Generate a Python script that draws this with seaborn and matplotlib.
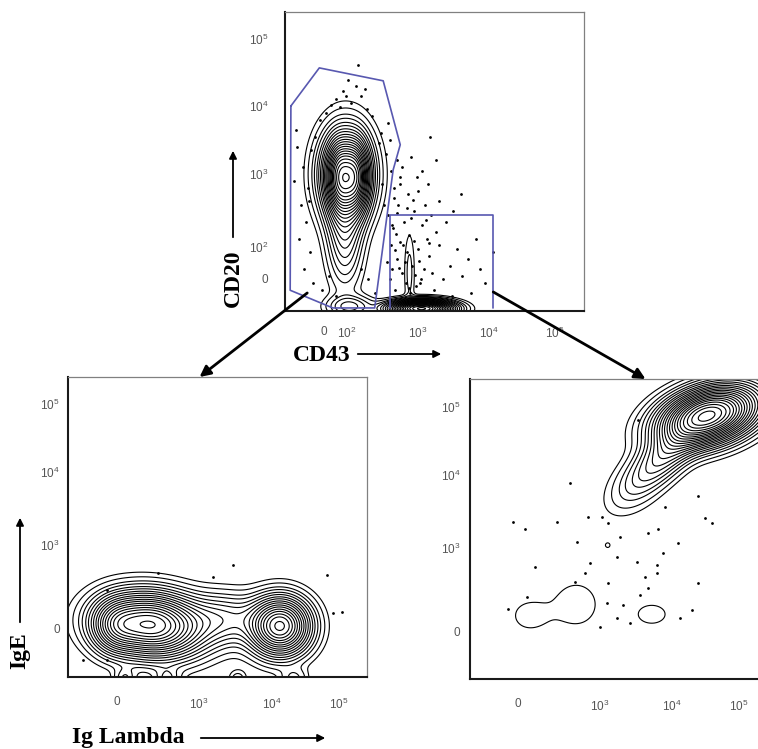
import numpy as np
import pandas as pd
import seaborn as sns
import matplotlib
matplotlib.use('Agg')
import matplotlib.pyplot as plt
from matplotlib.patches import ConnectionPatch, FancyArrowPatch

# axis units: display decades of the biexponential scale (10^k sits near k)
# each population = gaussian blob: centre, spread, correlation, peak height

# top panel: CD43 (x) vs CD20 (y)
TOP_CX = [1.90, 2.12, 1.98, 1.97, 2.04, 3.05, 2.88]
TOP_CY = [2.95, 2.95, 3.00, 2.20, 1.05, 1.02, 1.55]
TOP_SX = [0.11, 0.11, 0.22, 0.15, 0.20, 0.25, 0.05]
TOP_SY = [0.30, 0.30, 0.40, 0.50, 0.10, 0.07, 0.40]
TOP_RHO = [0.0, 0.0, 0.0, 0.0, 0.0, 0.0, 0.0]
TOP_H = [0.70, 0.70, 0.70, 0.25, 0.15, 1.80, 0.05]

# outlier events, top panel
TOP_DOT_U = [1.85, 1.95, 2.05, 2.12, 1.78, 2.20, 1.70, 2.28, 2.02, 1.90, 2.15, 1.62, 2.35, 1.99, 2.25,
             1.30, 1.38, 1.45, 1.35, 1.28, 1.50, 1.42, 1.33, 1.48, 1.40, 1.52, 1.25, 1.55, 1.47,
             2.48, 2.55, 2.62, 2.50, 2.58, 2.45, 2.70, 2.66, 2.52, 2.75, 2.60,
             2.58, 2.65, 2.72, 2.80, 2.88, 2.95, 3.05, 3.12, 2.62, 2.70, 2.78, 2.85, 2.92, 3.00, 3.08,
             3.15, 2.60, 2.68, 2.75, 2.83, 2.97, 3.04, 3.20, 3.25, 2.66, 2.86, 3.00, 2.74, 3.18, 3.30,
             2.56, 2.64, 2.90, 3.10, 2.81, 2.71, 2.94, 3.02, 3.22, 2.89, 3.35, 3.40, 2.99, 3.14, 2.77,
             2.90, 3.06, 2.69, 2.79, 2.96, 3.11, 2.63, 2.84, 3.03, 2.73, 2.93, 3.16, 2.67, 2.87,
             3.45, 3.55, 3.62, 3.70, 3.50, 3.82, 3.95, 3.75, 4.05, 3.60, 3.30, 3.48, 3.88, 3.17, 3.25,
             1.65, 1.75, 2.30, 2.40, 2.20, 1.85]
TOP_DOT_V = [4.10, 4.22, 4.05, 4.30, 4.02, 4.15, 3.90, 3.95, 4.38, 3.98, 4.60, 3.80, 3.85, 4.15, 4.25,
             3.40, 3.10, 2.80, 2.55, 3.65, 3.35, 2.30, 2.05, 1.85, 1.60, 1.40, 2.90, 3.55, 2.60,
             3.60, 3.30, 3.05, 2.85, 3.75, 3.45, 3.20, 2.80, 2.55, 2.95, 3.50,
             2.40, 2.20, 2.55, 2.30, 2.10, 2.45, 2.25, 2.05, 1.95, 1.75, 1.55, 1.85, 1.65, 1.90, 1.60,
             1.80, 1.45, 1.30, 2.00, 1.40, 1.35, 1.45, 1.55, 2.15, 2.65, 2.70, 2.75, 2.85, 2.40, 1.95,
             1.70, 1.60, 2.35, 2.55, 1.70, 2.42, 2.02, 1.72, 1.30, 1.25, 1.45, 2.30, 2.95, 2.85, 3.10,
             3.25, 3.05, 2.12, 1.95, 1.52, 2.32, 2.25, 2.50, 1.40, 1.62, 2.62, 1.98, 1.88, 1.32,
             1.65, 1.90, 1.50, 1.75, 2.45, 2.05, 1.40, 1.25, 1.85, 2.70, 2.60, 1.20, 1.60, 3.55, 3.20,
             1.30, 1.50, 1.45, 1.25, 1.60, 1.20]

# gates drawn on the top panel
GATE1_U = [1.21, 1.61, 2.51, 2.75, 2.65, 2.39, 1.80, 1.20, 1.21]
GATE1_V = [4.00, 4.56, 4.37, 3.43, 3.06, 1.03, 1.03, 1.29, 4.00]
GATE2_U = [2.61, 2.61, 4.06, 4.06]
GATE2_V = [1.03, 2.40, 2.40, 1.03]

# bottom left: Ig Lambda (x) vs IgE (y)
BL_CX = [2.32, 1.82, 4.15, 3.35, 1.95, 2.55, 3.55, 4.35]
BL_CY = [1.87, 1.85, 1.85, 1.95, 1.10, 1.10, 1.10, 1.10]
BL_SX = [0.42, 0.20, 0.25, 0.35, 0.10, 0.12, 0.08, 0.12]
BL_SY = [0.26, 0.22, 0.24, 0.22, 0.10, 0.10, 0.08, 0.10]
BL_RHO = [-0.1, 0.0, 0.0, 0.0, 0.0, 0.0, 0.0, 0.0]
BL_H = [1.20, 0.35, 1.00, 0.22, 0.10, 0.10, 0.06, 0.08]
BL_DOT_U = [2.42, 3.48, 3.20, 4.82, 5.03, 4.90, 1.35, 1.70, 1.70]
BL_DOT_V = [2.60, 2.72, 2.55, 2.57, 2.05, 2.04, 1.37, 1.37, 2.36]

# bottom right: Ig Lambda (x) vs IgE (y)
BR_CX = [4.55, 3.95, 3.45, 1.98, 2.66, 3.74, 3.11]
BR_CY = [4.88, 4.35, 3.85, 2.04, 2.20, 2.06, 3.04]
BR_SX = [0.40, 0.35, 0.25, 0.22, 0.30, 0.21, 0.035]
BR_SY = [0.24, 0.35, 0.25, 0.19, 0.30, 0.14, 0.035]
BR_RHO = [0.35, 0.75, 0.3, 0.0, 0.0, 0.0, 0.0]
BR_H = [1.60, 0.30, 0.03, 0.028, 0.030, 0.030, 0.030]
BR_DOT_U = [2.57, 2.83, 2.67, 3.03, 3.11, 3.29, 3.24, 3.53, 3.69, 3.83, 3.93, 4.11, 3.90, 3.81, 4.40,
            4.50, 4.60, 2.39, 1.93, 1.76, 2.07, 2.86, 3.11, 3.64, 3.81, 3.69, 3.57, 3.33, 3.10, 3.24,
            3.43, 3.00, 4.31, 4.14, 1.69, 1.96, 2.64, 2.79, 4.40, 3.54]
BR_DOT_V = [3.92, 3.44, 3.09, 3.44, 3.35, 3.16, 2.87, 2.80, 3.21, 3.27, 3.58, 3.07, 2.93, 2.76, 3.74,
            3.43, 3.35, 3.37, 3.27, 3.37, 2.73, 2.79, 2.50, 2.59, 2.65, 2.43, 2.33, 2.19, 2.22, 2.01,
            1.94, 1.88, 2.12, 2.01, 2.13, 2.30, 2.52, 2.65, 2.50, 4.82]

TOP_XTICKS = [1.67, 1.99, 3.0, 4.0, 4.93]
TOP_XLABELS = ['0', '$10^2$', '$10^3$', '$10^4$', '$10^5$']
TOP_YTICKS = [1.46, 1.93, 3.0, 4.0, 4.99]
TOP_YLABELS = ['0', '$10^2$', '$10^3$', '$10^4$', '$10^5$']
BOT_XTICKS = [1.83, 3.0, 4.03, 4.98]
BOT_YTICKS = [1.82, 3.0, 4.03, 5.0]
BOT_LABELS = ['0', '$10^3$', '$10^4$', '$10^5$']

# contour heights
LEVELS = [0.02, 0.04, 0.07, 0.10, 0.14, 0.18, 0.23, 0.28, 0.34, 0.40, 0.47, 0.54,
          0.62, 0.70, 0.79, 0.88, 0.98, 1.08, 1.20, 1.33, 1.46, 1.60, 1.75, 1.90, 2.10]


def mixture(cx, cy, sx, sy, rho, h):
    g = np.linspace(0.5, 6.0, 450)
    U, V = np.meshgrid(g, g)
    Z = np.zeros_like(U)
    for x0, y0, a, b, r, k in zip(cx, cy, sx, sy, rho, h):
        du = (U - x0) / a
        dv = (V - y0) / b
        q = (du**2 - 2*r*du*dv + dv**2) / (1 - r**2)
        Z += k * np.exp(-q/2)
    return U, V, Z


def style_axis(ax, xt, xl, yt, yl, xlim, ylim, xpad, ypad):
    ax.set_xlim(xlim)
    ax.set_ylim(ylim)
    ax.set_xticks(xt)
    ax.set_xticklabels(xl)
    ax.set_yticks(yt)
    ax.set_yticklabels(yl)
    # log-decade minor ticks
    minor = [k + np.log10(m) for k in (2, 3, 4) for m in range(2, 10)]
    ax.set_xticks([m for m in minor if xlim[0] < m < xlim[1] and m > xt[1] - 0.05], minor=True)
    ax.set_yticks([m for m in minor if ylim[0] < m < ylim[1] and m > yt[1] - 0.05], minor=True)
    ax.tick_params(which='major', direction='out', length=4, width=1, colors='black',
                   labelcolor='#555555', labelsize=8.5)
    ax.tick_params(which='minor', direction='out', length=2, width=0.8, colors='black')
    ax.tick_params(axis='x', which='major', pad=xpad)
    ax.tick_params(axis='y', which='major', pad=ypad)
    for s in ['top', 'right']:
        ax.spines[s].set_color('#808080')
        ax.spines[s].set_linewidth(0.9)
    for s in ['left', 'bottom']:
        ax.spines[s].set_color('#1a1a1a')
        ax.spines[s].set_linewidth(1.5)
    ax.set_xlabel('')
    ax.set_ylabel('')


sns.set_style('white')
plt.rcParams['font.family'] = ['Liberation Sans', 'DejaVu Sans']
plt.rcParams['mathtext.default'] = 'regular'

fig = plt.figure(figsize=(7.58, 7.49), dpi=100)
W, H = 758.0, 749.0
ax_top = fig.add_axes([285/W, 1-311/H, 299/W, 299/H])
ax_bl = fig.add_axes([68/W, 1-677/H, 299/W, 300/H])
ax_br = fig.add_axes([470/W, 1-679/H, 299/W, 300/H])

panels = [
    (ax_top, (TOP_CX, TOP_CY, TOP_SX, TOP_SY, TOP_RHO, TOP_H), TOP_DOT_U, TOP_DOT_V),
    (ax_bl, (BL_CX, BL_CY, BL_SX, BL_SY, BL_RHO, BL_H), BL_DOT_U, BL_DOT_V),
    (ax_br, (BR_CX, BR_CY, BR_SX, BR_SY, BR_RHO, BR_H), BR_DOT_U, BR_DOT_V),
]
for ax, pops, du, dv in panels:
    U, V, Z = mixture(*pops)
    ax.contour(U, V, Z, levels=LEVELS, colors='black', linewidths=0.8)
    sns.scatterplot(x=du, y=dv, ax=ax, s=4, color='black', linewidth=0)

# gates
gate_col = '#5858b0'
sns.lineplot(x=GATE1_U, y=GATE1_V, sort=False, estimator=None, ax=ax_top, color=gate_col, lw=1.2)
sns.lineplot(x=GATE2_U, y=GATE2_V, sort=False, estimator=None, ax=ax_top, color=gate_col, lw=1.2)

style_axis(ax_top, TOP_XTICKS, TOP_XLABELS, TOP_YTICKS, TOP_YLABELS, (1.127, 5.338), (0.985, 5.382), 7, 8)
style_axis(ax_bl, BOT_XTICKS, BOT_LABELS, BOT_YTICKS, BOT_LABELS, (1.142, 5.383), (1.128, 5.383), 10, 2)
style_axis(ax_br, BOT_XTICKS, BOT_LABELS, BOT_YTICKS, BOT_LABELS, (1.143, 5.414), (1.142, 5.397), 10, 3)

# arrows from the gates to the gated plots
for xyA, ax_to, xB in [((1.44, 1.25), ax_bl, 0.44), ((4.06, 1.265), ax_br, 0.587)]:
    con = ConnectionPatch(xyA=xyA, coordsA=ax_top.transData, xyB=(xB, 1.0), coordsB=ax_to.transAxes,
                          arrowstyle='-|>', mutation_scale=16, lw=2.0, color='black', zorder=10)
    fig.add_artist(con)

# axis labels with arrows
lab = dict(fontsize=17, fontweight='bold', family='Liberation Serif', color='black')
fig.text(322/W, 1-356/H, 'CD43', ha='center', va='center', **lab)
fig.text(233/W, 1-278/H, 'CD20', ha='center', va='center', rotation=90, **lab)
fig.text(128/W, 1-737/H, 'Ig Lambda', ha='center', va='center', **lab)
fig.text(20/W, 1-651/H, 'IgE', ha='center', va='center', rotation=90, **lab)
for a, b in [((355, 354), (444, 354)), ((233, 240), (233, 148)),
             ((198, 738), (328, 738)), ((20, 625), (20, 515))]:
    fig.add_artist(FancyArrowPatch((a[0]/W, 1-a[1]/H), (b[0]/W, 1-b[1]/H), transform=fig.transFigure,
                                   arrowstyle='-|>', mutation_scale=11, lw=1.3, color='black'))

fig.savefig('out.png', dpi=100)
